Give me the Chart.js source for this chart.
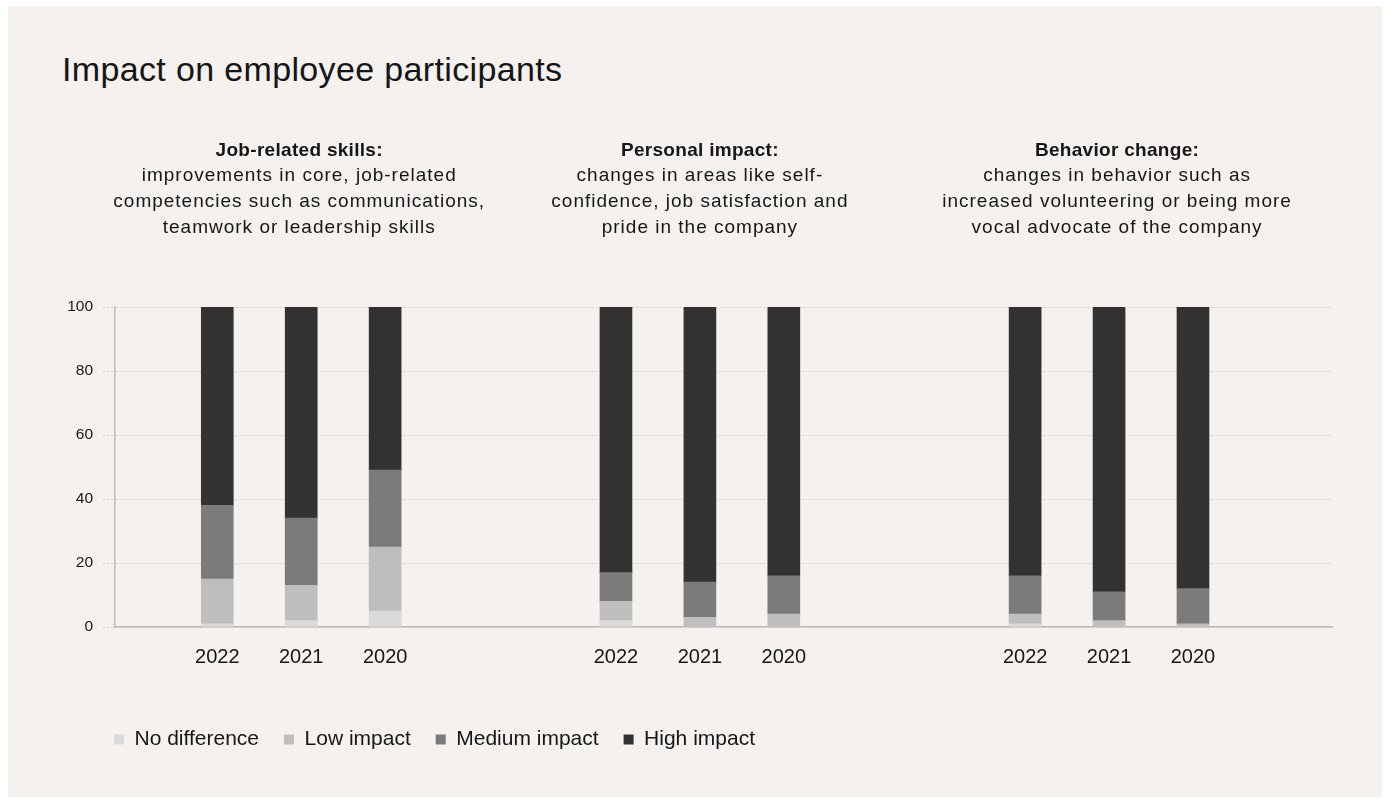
<!DOCTYPE html>
<html>
<head>
<meta charset="utf-8">
<script src="https://cdn.jsdelivr.net/npm/chart.js@4.4.1/dist/chart.umd.min.js"></script>
<style>
  html, body { margin: 0; padding: 0; background: #ffffff; }
  #panel {
    position: absolute; left: 8px; top: 6px;
    width: 1374px; height: 791px;
    background: #f4f1ee;
  }
  #title {
    position: absolute; left: 54px; top: 43px;
    font-family: "Liberation Sans", Arial, sans-serif;
    font-size: 34px; line-height: 40px; letter-spacing: 0.35px;
    color: #161616;
  }
  #chartBox { position: absolute; left: 0; top: 0; width: 1374px; height: 791px; }
</style>
</head>
<body>
<div id="panel">
  <div id="title">Impact on employee participants</div>
  <div id="chartBox"><canvas id="impactChart"></canvas></div>
</div>
<script>
// Survey years shown in each group, and the three impact areas
const years = ["2022", "2021", "2020"];
const groupHeadings = [
  ["Job-related skills:", "improvements in core, job-related", "competencies such as communications,", "teamwork or leadership skills"],
  ["Personal impact:", "changes in areas like self-", "confidence, job satisfaction and", "pride in the company"],
  ["Behavior change:", "changes in behavior such as", "increased volunteering or being more", "vocal advocate of the company"]
];

// Share of respondents (%) per bar: skills 2022-2020, personal 2022-2020, behavior 2022-2020
const noDifference = [1, 2, 5, 2, 0, 0, 1, 0, 0];
const lowImpact = [14, 11, 20, 6, 3, 4, 3, 2, 1];
const mediumImpact = [23, 21, 24, 9, 11, 12, 12, 9, 11];
const highImpact = [62, 66, 51, 83, 86, 84, 84, 89, 88];

const yTicks = [0, 20, 40, 60, 80, 100];

// category axis gets empty slots so the groups sit apart
const LEAD = 19, INNER = 15, BETWEEN = [43, 45], TRAIL = 26;
const labels = [];
const slotOf = [];   // category index of each real bar
function pushBlank(n) { for (let i = 0; i < n; i++) labels.push(""); }
pushBlank(LEAD);
groupHeadings.forEach((g, gi) => {
  years.forEach((y, yi) => {
    slotOf.push(labels.length);
    labels.push(y);
    if (yi < years.length - 1) pushBlank(INNER);
  });
  if (gi < groupHeadings.length - 1) pushBlank(BETWEEN[gi]);
});
pushBlank(TRAIL);

function spread(values) {
  const out = labels.map(() => null);
  values.forEach((v, i) => { out[slotOf[i]] = v; });
  return out;
}

const FONT = '"Liberation Sans", Arial, sans-serif';
const headingNudge = [-2, 0, 8];

// draws the bold heading plus description above each group
const groupHeadingPlugin = {
  id: "groupHeadings",
  afterDraw(chart) {
    const ctx = chart.ctx;
    const xScale = chart.scales.x;
    const top = chart.chartArea.top;
    ctx.save();
    ctx.textAlign = "center";
    ctx.textBaseline = "middle";
    ctx.fillStyle = "#161616";
    groupHeadings.forEach((lines, gi) => {
      const cx = xScale.getPixelForValue(slotOf[gi * years.length + 1]) + headingNudge[gi];
      lines.forEach((line, li) => {
        if (li === 0) {
          ctx.font = "bold 19px " + FONT;
          ctx.letterSpacing = "0.3px";
        } else {
          ctx.font = "19px " + FONT;
          ctx.letterSpacing = "1px";
        }
        ctx.fillText(line, cx, top - 156.5 + li * 25.7);
      });
    });
    ctx.restore();
  }
};

// legend starts a bit further right than the layout padding
const legendOffset = {
  id: "legendOffset",
  afterLayout(chart) {
    if (chart.legend) chart.legend.left += 24;
  }
};

const dsStyle = { barThickness: 32, borderWidth: 0 };

new Chart(document.getElementById("impactChart"), {
  type: "bar",
  data: {
    labels: labels,
    datasets: [
      Object.assign({ label: "No difference", data: spread(noDifference), backgroundColor: "#dadada" }, dsStyle),
      Object.assign({ label: "Low impact", data: spread(lowImpact), backgroundColor: "#bebebe" }, dsStyle),
      Object.assign({ label: "Medium impact", data: spread(mediumImpact), backgroundColor: "#7b7b7b" }, dsStyle),
      Object.assign({ label: "High impact", data: spread(highImpact), backgroundColor: "#323232" }, dsStyle)
    ]
  },
  options: {
    responsive: true,
    maintainAspectRatio: false,
    animation: false,
    layout: { padding: { left: 57, right: 50, top: 301, bottom: 37 } },
    plugins: {
      tooltip: { enabled: false },
      title: { display: false },
      legend: {
        position: "bottom",
        align: "start",
        labels: {
          boxWidth: 10,
          boxHeight: 10,
          padding: 25,
          color: "#161616",
          font: { family: FONT, size: 21 }
        }
      }
    },
    scales: {
      x: {
        stacked: true,
        grid: { display: false, drawTicks: false, drawOnChartArea: false },
        border: { display: true, color: "#bdbab7", width: 1.5 },
        ticks: {
          autoSkip: false,
          maxRotation: 0,
          padding: 18,
          color: "#161616",
          font: { family: FONT, size: 20 }
        },
        afterFit: (axis) => { axis.height = 77; }
      },
      y: {
        stacked: true,
        min: 0,
        max: 100,
        afterBuildTicks: (axis) => { axis.ticks = yTicks.map((v) => ({ value: v })); },
        grid: {
          color: "#cfccc9",
          lineWidth: 1,
          tickLength: 12,
          tickBorderDash: [2, 2],
          tickColor: "#cfccc9"
        },
        border: { display: true, color: "#bdbab7", width: 1.5, dash: [2, 2] },
        ticks: {
          padding: 10,
          color: "#161616",
          font: { family: FONT, size: 15.5 }
        },
        afterFit: (axis) => { axis.width = 50; }
      }
    }
  },
  plugins: [groupHeadingPlugin, legendOffset]
});
</script>
</body>
</html>
